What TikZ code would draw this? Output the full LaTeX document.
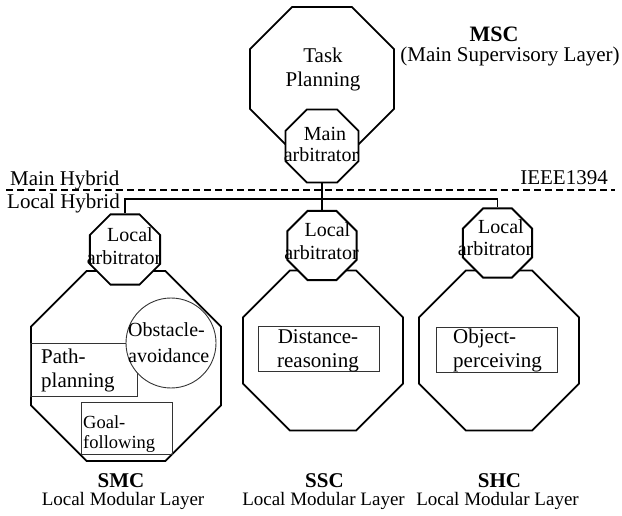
\documentclass[tikz,border=0pt]{standalone}
\usepackage{fontspec}
\setmainfont{Liberation Serif}
\usetikzlibrary{shapes.geometric}
\begin{document}
\begin{tikzpicture}[x=1pt,y=-1pt,
  oct/.style={regular polygon, regular polygon sides=8, draw, line width=1.8pt, inner sep=0pt, fill=white},
  box/.style={draw=black!80, line width=0.9pt, inner sep=0pt},
  txt/.style={inner sep=0pt, anchor=base, font=\fontsize{21}{24}\selectfont},
  arbtxt/.style={txt, align=center, font=\fontsize{20}{23}\selectfont},
  modtxt/.style={txt, align=left, anchor=base west},
  boldlbl/.style={txt, font=\fontsize{21}{24}\selectfont\bfseries},
  layerlbl/.style={txt, font=\fontsize{19}{22}\selectfont},
  conn/.style={line width=1.8pt},
  hybrid/.style={line width=2pt, dash pattern=on 7pt off 4pt}]
\useasboundingbox (0,0) rectangle (622,516);

% main supervisory layer
\node[oct, minimum size=155.9pt] (task) at (322,79) {};
\node[oct, minimum size=79pt] (marb) at (322,146) {};

% local modules
\node[oct, minimum size=205.7pt] (smc) at (126,366) {};
\node[oct, minimum size=173.2pt] (ssc) at (323,350.5) {};
\node[oct, minimum size=173.2pt] (shc) at (499,350.5) {};

% inner behaviours
\node[box, minimum width=107pt, minimum height=53pt] (pathbox) at (83.5,369.5) {};
\node[box, minimum width=91pt, minimum height=52pt] (goalbox) at (126.5,428) {};
\node[box, circle, fill=white, minimum size=90pt] (obst) at (171,343) {};
\node[box, minimum width=121pt, minimum height=45pt] (distbox) at (318.5,348.5) {};
\node[box, minimum width=121pt, minimum height=45pt] (objbox) at (496.5,349.5) {};

% hybrid lines
\coordinate (dashL) at (6,190);
\coordinate (dashR) at (615,190);
\coordinate (busy) at (0,199);
\draw[hybrid] (dashL) -- (dashR);

% local arbitrators
\node[oct, minimum size=76pt] (la1) at (125,249.5) {};
\node[oct, minimum size=75pt] (la2) at (322,245.5) {};
\node[oct, minimum size=75pt] (la3) at (497.5,243) {};

\draw[conn] (marb.south) -- (la2.north);
\draw[conn] (la1.north) -- (la1.north |- busy) -- (la3.north |- busy) -- (la3.north);

% texts (anchor base = baseline of the last line)
\node[txt, align=center] (tasktxt) at (323,87) {Task\\Planning};
\node[arbtxt, font=\fontsize{20}{21}\selectfont] (marbtxt) at (321,162) {\hspace*{8pt}Main\\arbitrator};
\node[arbtxt] (la1txt) at (124,265) {\hspace*{12pt}Local\\arbitrator};
\node[arbtxt] (la2txt) at (321.5,260) {\hspace*{12pt}Local\\arbitrator};
\node[arbtxt] (la3txt) at (495,256) {\hspace*{12pt}Local\\arbitrator};

\node[modtxt, font=\fontsize{20}{25}\selectfont] (obsttxt) at (128,362) {Obstacle-\\avoidance};
\node[modtxt] (pathtxt) at (41,387) {Path-\\planning};
\node[modtxt, font=\fontsize{18.5}{20}\selectfont] (goaltxt) at (83,448) {Goal-\\following};
\node[txt, align=center] (disttxt) at (318,367) {Distance-\\reasoning};
\node[modtxt] (objtxt) at (453,367) {Object-\\perceiving};

\node[txt, anchor=base west] (mainhyb) at (10,185.7) {Main Hybrid};
\node[txt, anchor=base west] (localhyb) at (7,209) {Local Hybrid};
\node[txt, anchor=base east] (ieee) at (608,185) {IEEE1394};

\node[boldlbl, font=\fontsize{22}{24}\selectfont\bfseries] (msc) at (494,42) {MSC};
\node[txt] (msclayer) at (510,62) {(Main Supervisory Layer)};

\node[boldlbl] (smclbl) at (121,487) {SMC};
\node[layerlbl] (smclayer) at (123,505) {Local Modular Layer};
\node[boldlbl] (ssclbl) at (324.5,487) {SSC};
\node[layerlbl] (ssclayer) at (323.5,505) {Local Modular Layer};
\node[boldlbl] (shclbl) at (499.5,487) {SHC};
\node[layerlbl] (shclayer) at (497.5,505) {Local Modular Layer};
\end{tikzpicture}
\end{document}
